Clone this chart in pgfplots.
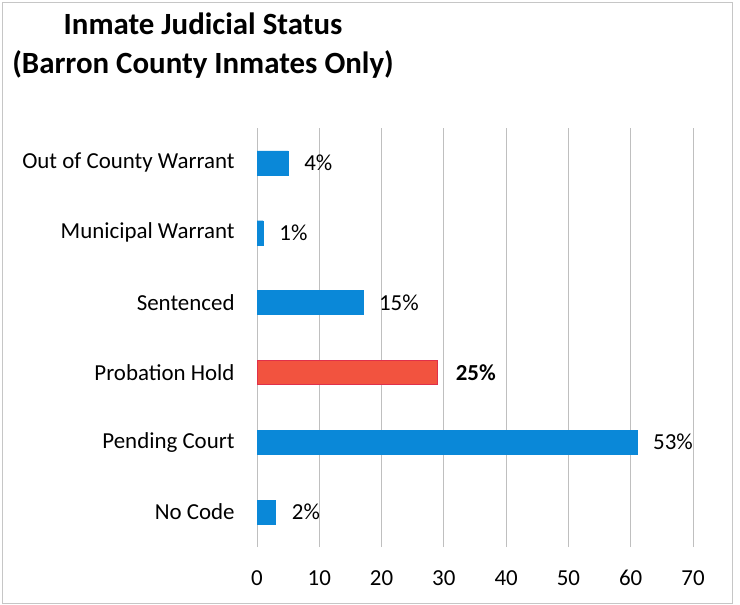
\documentclass[border=0pt]{standalone}
\usepackage{pgfplots}
\pgfplotsset{compat=1.18}
\usepackage{fontspec}
\setmainfont{Carlito}
\definecolor{barblue}{HTML}{0A88D8}
\definecolor{barred}{HTML}{F2533F}
\definecolor{rededge}{HTML}{E0304A}

\begin{document}
\begin{tikzpicture}
% page size 740 x 605 (1px = 1bp)
\path (0,0) rectangle (740bp,605bp);
\draw[gray!45,line width=0.8bp] (2bp,1.5bp) rectangle (732bp,603bp);

\node[font=\fontsize{31}{37}\selectfont\bfseries,anchor=base] at (203bp,570bp) {Inmate Judicial Status};
\node[font=\fontsize{31}{37}\selectfont\bfseries,anchor=base] at (203bp,531bp) {(Barron County Inmates Only)};

\begin{axis}[
    at={(257bp,58bp)}, anchor=south west,
    width=436bp, height=419bp, scale only axis,
    xmin=0, xmax=70, ymin=-0.5, ymax=5.5,
    xbar, bar width=24bp, bar shift=0pt,
    xtick={0,10,...,70},
    ytick={0,1,2,3,4,5},
    yticklabels={No Code,Pending Court,Probation Hold,Sentenced,Municipal Warrant,Out of County Warrant},
    xmajorgrids, ymajorgrids=false,
    major grid style={gray!50,line width=0.8bp},
    axis line style={draw=none},
    tick style={draw=none},
    ticklabel style={font=\fontsize{23}{27}\selectfont},
    /pgf/number format/assume math mode=true,
    yticklabel style={inner sep=0pt, xshift=-18bp},
    xticklabel style={inner sep=0pt, yshift=-23bp},
    point meta=explicit symbolic,
    nodes near coords={\pgfplotspointmeta},
    every node near coord/.append style={font=\fontsize{23}{27}\selectfont, anchor=west, inner sep=0pt, xshift=16bp, text=black},
]
\addplot[fill=barblue, draw=barblue] coordinates {
    (3,0) [2\%]
    (61,1) [53\%]
    (17,3) [15\%]
    (1,4) [1\%]
    (5,5) [4\%]
};
\addplot[fill=barred, draw=rededge,
    every node near coord/.append style={font=\fontsize{23}{27}\selectfont\bfseries, xshift=2bp}] coordinates {
    (29,2) [25\%]
};
\end{axis}
\end{tikzpicture}
\end{document}
